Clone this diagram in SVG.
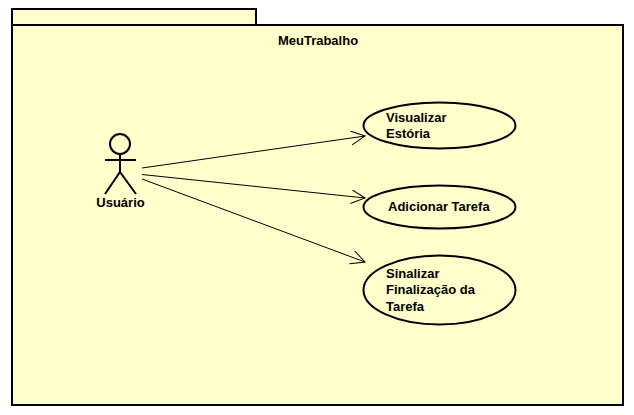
<svg xmlns="http://www.w3.org/2000/svg" width="634" height="415" viewBox="0 0 634 415">
<style>
.s{fill:#ffffcc;stroke:#000;stroke-width:2}
.n{fill:none;stroke:#000;stroke-width:2}
.c{fill:none;stroke:#000;stroke-width:1}
text{font-family:"Liberation Sans",Arial,sans-serif;font-size:13px;font-weight:bold;fill:#000}
</style>
<defs>
<marker id="open" markerUnits="userSpaceOnUse" markerWidth="16" markerHeight="16" refX="14" refY="7" orient="auto"><path d="M0 0L14 7L0 14" fill="none" stroke="#000" stroke-width="1"/></marker>
</defs>
<rect width="634" height="415" fill="#fff"/>
<g id="package">
<rect class="s" x="12" y="9" width="244" height="16"/>
<rect class="s" x="12" y="25" width="611" height="380"/>
<text x="318" y="45" text-anchor="middle">MeuTrabalho</text>
</g>
<g id="connectors">
<line class="c" x1="142" y1="168" x2="365" y2="136" marker-end="url(#open)"/>
<line class="c" x1="142" y1="174.500" x2="365" y2="198" marker-end="url(#open)"/>
<line class="c" x1="142" y1="179" x2="365" y2="262" marker-end="url(#open)"/>
</g>
<g id="actor">
<circle class="n" cx="120" cy="144" r="10"/>
<path class="n" d="M120 154V172M105 160H136M105 194L120 172L136 194"/>
<text x="120.500" y="207" text-anchor="middle">Usuário</text>
</g>
<g id="uc1">
<ellipse class="s" cx="439.500" cy="125.500" rx="76" ry="23"/>
<text x="386" y="122">Visualizar</text>
<text x="386" y="138">Estória</text>
</g>
<g id="uc2">
<ellipse class="s" cx="439.500" cy="207" rx="76" ry="21.500"/>
<text x="388" y="211">Adicionar Tarefa</text>
</g>
<g id="uc3">
<ellipse class="s" cx="439.500" cy="290" rx="76" ry="34.500"/>
<text x="386" y="278">Sinalizar</text>
<text x="386" y="294">Finalização da</text>
<text x="386" y="311">Tarefa</text>
</g>
</svg>
